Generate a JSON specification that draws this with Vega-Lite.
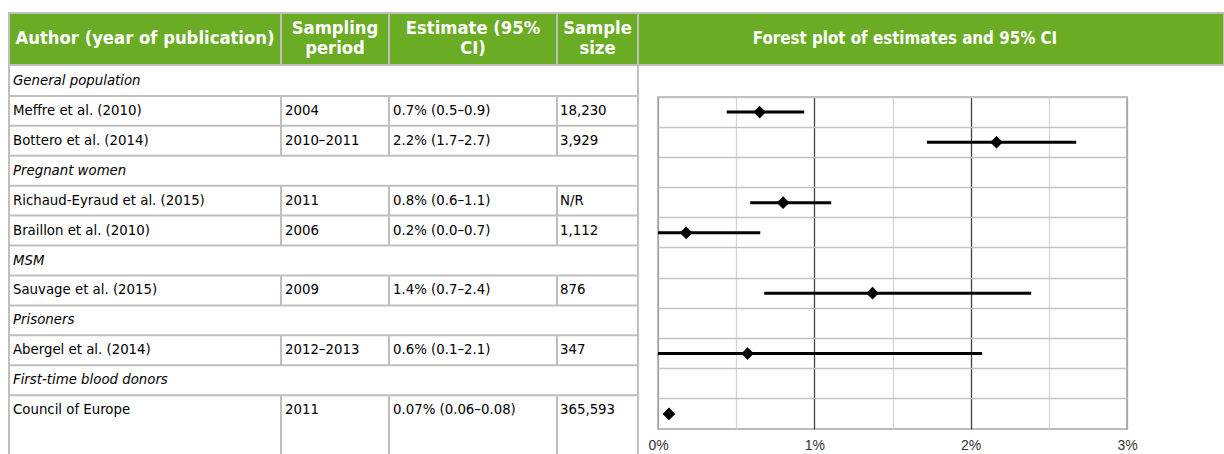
{
  "$schema": "https://vega.github.io/schema/vega-lite/v6.json",
  "padding": {"left": 8, "top": 12, "right": 0, "bottom": 0},
  "spacing": -6,
  "config": {
    "view": {"stroke": null},
    "concat": {"spacing": 0},
    "text": {"font": "DejaVu Sans Condensed, DejaVu Sans", "fontSize": 14.8, "color": "#000000"}
  },
  "datasets": {
    "rows": [
      {"row": 1, "type": "cat", "author": "General population"},
      {"row": 2, "type": "study", "author": "Meffre et al. (2010)", "period": "2004", "estimate": "0.7% (0.5–0.9)", "n": "18,230", "est": 0.65, "lo": 0.44, "hi": 0.935},
      {"row": 3, "type": "study", "author": "Bottero et al. (2014)", "period": "2010–2011", "estimate": "2.2% (1.7–2.7)", "n": "3,929", "est": 2.165, "lo": 1.72, "hi": 2.675},
      {"row": 4, "type": "cat", "author": "Pregnant women"},
      {"row": 5, "type": "study", "author": "Richaud-Eyraud et al. (2015)", "period": "2011", "estimate": "0.8% (0.6–1.1)", "n": "N/R", "est": 0.8, "lo": 0.59, "hi": 1.108},
      {"row": 6, "type": "study", "author": "Braillon et al. (2010)", "period": "2006", "estimate": "0.2% (0.0–0.7)", "n": "1,112", "est": 0.18, "lo": 0.0, "hi": 0.654},
      {"row": 7, "type": "cat", "author": "MSM"},
      {"row": 8, "type": "study", "author": "Sauvage et al. (2015)", "period": "2009", "estimate": "1.4% (0.7–2.4)", "n": "876", "est": 1.372, "lo": 0.68, "hi": 2.387},
      {"row": 9, "type": "cat", "author": "Prisoners"},
      {"row": 10, "type": "study", "author": "Abergel et al. (2014)", "period": "2012–2013", "estimate": "0.6% (0.1–2.1)", "n": "347", "est": 0.573, "lo": 0.0, "hi": 2.073},
      {"row": 11, "type": "cat", "author": "First-time blood donors"},
      {"row": 12, "type": "study", "author": "Council of Europe", "period": "2011", "estimate": "0.07% (0.06–0.08)", "n": "365,593", "est": 0.07, "lo": 0.06, "hi": 0.08},
      {"row": 13, "type": "spacer"}
    ],
    "header": [
      {"col": "author", "label": "Author (year of publication)"},
      {"col": "period", "label": ["Sampling", "period"]},
      {"col": "estimate", "label": ["Estimate (95%", "CI)"]},
      {"col": "n", "label": ["Sample", "size"]},
      {"col": "forest", "label": "Forest plot of estimates and 95% CI"}
    ]
  },
  "vconcat": [
    {
      "spacing": 0,
      "bounds": "flush",
      "hconcat": [
        {"width": 272, "height": 52, "view": {"fill": "#6AAC24", "stroke": "#BFBFBF", "strokeWidth": 2},
         "data": {"name": "header"}, "transform": [{"filter": "datum.col == 'author'"}],
         "mark": {"type": "text", "color": "white", "fontWeight": "bold", "fontSize": 18.3, "baseline": "middle"},
         "encoding": {"text": {"field": "label"}}},
        {"width": 108, "height": 52, "view": {"fill": "#6AAC24", "stroke": "#BFBFBF", "strokeWidth": 2},
         "data": {"name": "header"}, "transform": [{"filter": "datum.col == 'period'"}],
         "mark": {"type": "text", "color": "white", "fontWeight": "bold", "fontSize": 18.3, "baseline": "middle", "lineHeight": 20, "dy": -10},
         "encoding": {"text": {"field": "label"}}},
        {"width": 168, "height": 52, "view": {"fill": "#6AAC24", "stroke": "#BFBFBF", "strokeWidth": 2},
         "data": {"name": "header"}, "transform": [{"filter": "datum.col == 'estimate'"}],
         "mark": {"type": "text", "color": "white", "fontWeight": "bold", "fontSize": 18.3, "baseline": "middle", "lineHeight": 20, "dy": -10},
         "encoding": {"text": {"field": "label"}}},
        {"width": 81, "height": 52, "view": {"fill": "#6AAC24", "stroke": "#BFBFBF", "strokeWidth": 2},
         "data": {"name": "header"}, "transform": [{"filter": "datum.col == 'n'"}],
         "mark": {"type": "text", "color": "white", "fontWeight": "bold", "fontSize": 18.3, "baseline": "middle", "lineHeight": 20, "dy": -10},
         "encoding": {"text": {"field": "label"}}},
        {"width": 586, "height": 52, "view": {"fill": "#6AAC24", "stroke": "#BFBFBF", "strokeWidth": 2},
         "data": {"name": "header"}, "transform": [{"filter": "datum.col == 'forest'"}],
         "mark": {"type": "text", "color": "white", "fontWeight": "bold", "fontSize": 16.8, "baseline": "middle", "dx": -26},
         "encoding": {"text": {"field": "label"}}}
      ]
    },
    {
      "spacing": 8,
      "hconcat": [
        {
          "spacing": 0,
          "bounds": "flush",
          "hconcat": [
            {
              "width": 272, "height": 389,
              "data": {"name": "rows"},
              "layer": [
                {"transform": [{"filter": "datum.row > 1 && datum.type != 'spacer'"}],
                 "mark": {"type": "rule", "color": "#BFBFBF", "strokeWidth": 2},
                 "encoding": {
                   "y": {"field": "row", "type": "ordinal", "bandPosition": 0, "scale": {"domain": [1,2,3,4,5,6,7,8,9,10,11,12,13], "paddingInner": 0, "paddingOuter": 0}, "axis": null},
                   "x": {"datum": 0, "type": "quantitative", "scale": {"domain": [0, 1], "nice": false}, "axis": null},
                   "x2": {"datum": 1}}},
                {"mark": {"type": "rule", "color": "#BFBFBF", "strokeWidth": 2},
                 "encoding": {"x": {"datum": 0, "type": "quantitative", "axis": null}}},
                {"transform": [{"filter": "datum.type == 'study'"}],
                 "mark": {"type": "text", "align": "left", "baseline": "middle", "dx": 4},
                 "encoding": {
                   "y": {"field": "row", "type": "ordinal", "axis": null},
                   "x": {"datum": 0, "type": "quantitative", "axis": null},
                   "text": {"field": "author"}}},
                {"transform": [{"filter": "datum.type == 'cat'"}],
                 "mark": {"type": "text", "align": "left", "baseline": "middle", "dx": 4, "fontStyle": "italic"},
                 "encoding": {
                   "y": {"field": "row", "type": "ordinal", "axis": null},
                   "x": {"datum": 0, "type": "quantitative", "axis": null},
                   "text": {"field": "author"}}}
              ]
            },
            {
              "width": 108, "height": 389,
              "data": {"name": "rows"},
              "layer": [
                {"transform": [{"filter": "datum.row > 1 && datum.type != 'spacer'"}],
                 "mark": {"type": "rule", "color": "#BFBFBF", "strokeWidth": 2},
                 "encoding": {
                   "y": {"field": "row", "type": "ordinal", "bandPosition": 0, "scale": {"domain": [1,2,3,4,5,6,7,8,9,10,11,12,13], "paddingInner": 0, "paddingOuter": 0}, "axis": null},
                   "x": {"datum": 0, "type": "quantitative", "scale": {"domain": [0, 1], "nice": false}, "axis": null},
                   "x2": {"datum": 1}}},
                {"transform": [{"filter": "datum.type != 'cat'"}],
                 "mark": {"type": "rect", "fill": null, "stroke": "#BFBFBF", "strokeWidth": 2},
                 "encoding": {
                   "y": {"field": "row", "type": "ordinal", "axis": null},
                   "x": {"datum": 0, "type": "quantitative", "axis": null},
                   "x2": {"datum": 0}}},
                {"transform": [{"filter": "datum.type == 'study'"}],
                 "mark": {"type": "text", "align": "left", "baseline": "middle", "dx": 4},
                 "encoding": {
                   "y": {"field": "row", "type": "ordinal", "axis": null},
                   "x": {"datum": 0, "type": "quantitative", "axis": null},
                   "text": {"field": "period"}}}
              ]
            },
            {
              "width": 168, "height": 389,
              "data": {"name": "rows"},
              "layer": [
                {"transform": [{"filter": "datum.row > 1 && datum.type != 'spacer'"}],
                 "mark": {"type": "rule", "color": "#BFBFBF", "strokeWidth": 2},
                 "encoding": {
                   "y": {"field": "row", "type": "ordinal", "bandPosition": 0, "scale": {"domain": [1,2,3,4,5,6,7,8,9,10,11,12,13], "paddingInner": 0, "paddingOuter": 0}, "axis": null},
                   "x": {"datum": 0, "type": "quantitative", "scale": {"domain": [0, 1], "nice": false}, "axis": null},
                   "x2": {"datum": 1}}},
                {"transform": [{"filter": "datum.type != 'cat'"}],
                 "mark": {"type": "rect", "fill": null, "stroke": "#BFBFBF", "strokeWidth": 2},
                 "encoding": {
                   "y": {"field": "row", "type": "ordinal", "axis": null},
                   "x": {"datum": 0, "type": "quantitative", "axis": null},
                   "x2": {"datum": 0}}},
                {"transform": [{"filter": "datum.type == 'study'"}],
                 "mark": {"type": "text", "align": "left", "baseline": "middle", "dx": 4},
                 "encoding": {
                   "y": {"field": "row", "type": "ordinal", "axis": null},
                   "x": {"datum": 0, "type": "quantitative", "axis": null},
                   "text": {"field": "estimate"}}}
              ]
            },
            {
              "width": 81, "height": 389,
              "data": {"name": "rows"},
              "layer": [
                {"transform": [{"filter": "datum.row > 1 && datum.type != 'spacer'"}],
                 "mark": {"type": "rule", "color": "#BFBFBF", "strokeWidth": 2},
                 "encoding": {
                   "y": {"field": "row", "type": "ordinal", "bandPosition": 0, "scale": {"domain": [1,2,3,4,5,6,7,8,9,10,11,12,13], "paddingInner": 0, "paddingOuter": 0}, "axis": null},
                   "x": {"datum": 0, "type": "quantitative", "scale": {"domain": [0, 1], "nice": false}, "axis": null},
                   "x2": {"datum": 1}}},
                {"transform": [{"filter": "datum.type != 'cat'"}],
                 "mark": {"type": "rect", "fill": null, "stroke": "#BFBFBF", "strokeWidth": 2},
                 "encoding": {
                   "y": {"field": "row", "type": "ordinal", "axis": null},
                   "x": {"datum": 0, "type": "quantitative", "axis": null},
                   "x2": {"datum": 0}}},
                {"mark": {"type": "rule", "color": "#BFBFBF", "strokeWidth": 2},
                 "encoding": {"x": {"datum": 1, "type": "quantitative", "axis": null}}},
                {"transform": [{"filter": "datum.type == 'study'"}],
                 "mark": {"type": "text", "align": "left", "baseline": "middle", "dx": 3},
                 "encoding": {
                   "y": {"field": "row", "type": "ordinal", "axis": null},
                   "x": {"datum": 0, "type": "quantitative", "axis": null},
                   "text": {"field": "n"}}}
              ]
            }
          ]
        },
        {
          "spacing": 0,
          "bounds": "flush",
          "vconcat": [
            {"width": 469, "height": 31, "data": {"values": [{}]},
             "mark": {"type": "text"}, "encoding": {"text": {"value": ""}}},
            {
              "width": 469, "height": 332,
              "view": {"stroke": "#A6A6A6", "strokeWidth": 1.5},
              "data": {"name": "rows"},
              "transform": [{"filter": "datum.type == 'study'"}],
              "encoding": {
                "y": {"field": "row", "type": "ordinal",
                      "scale": {"domain": [2,3,4,5,6,7,8,9,10,11,12], "paddingInner": 0, "paddingOuter": 0},
                      "axis": {"grid": true, "bandPosition": 0, "gridColor": "#C4C4C4", "gridWidth": 1.5, "labels": false, "ticks": false, "domain": false, "title": null}}
              },
              "layer": [
                {"mark": {"type": "rule", "color": "#000000", "strokeWidth": 3},
                 "encoding": {
                   "x": {"field": "lo", "type": "quantitative",
                         "scale": {"domain": [0, 3], "nice": false, "zero": false},
                         "axis": {"values": [0, 0.5, 1, 1.5, 2, 2.5, 3], "grid": true,
                                  "gridColor": {"condition": [{"test": "datum.value == 1 || datum.value == 2", "value": "#404040"}, {"test": "datum.value == 0 || datum.value == 3", "value": "#A6A6A6"}], "value": "#D4D4D4"},
                                  "gridWidth": 1.3, "ticks": false, "domain": false, "title": null,
                                  "labelExpr": "datum.value % 1 === 0 ? datum.value + '%' : ''",
                                  "labelPadding": 9, "labelFont": "Liberation Sans", "labelFontSize": 14, "labelColor": "#333333",
                                  "labelFlush": false, "labelOverlap": false}},
                   "x2": {"field": "hi"}}},
                {"mark": {"type": "point", "shape": "diamond", "filled": true, "color": "#000000", "opacity": 1, "size": 160},
                 "encoding": {"x": {"field": "est", "type": "quantitative"}}}
              ]
            }
          ]
        }
      ]
    }
  ]
}
